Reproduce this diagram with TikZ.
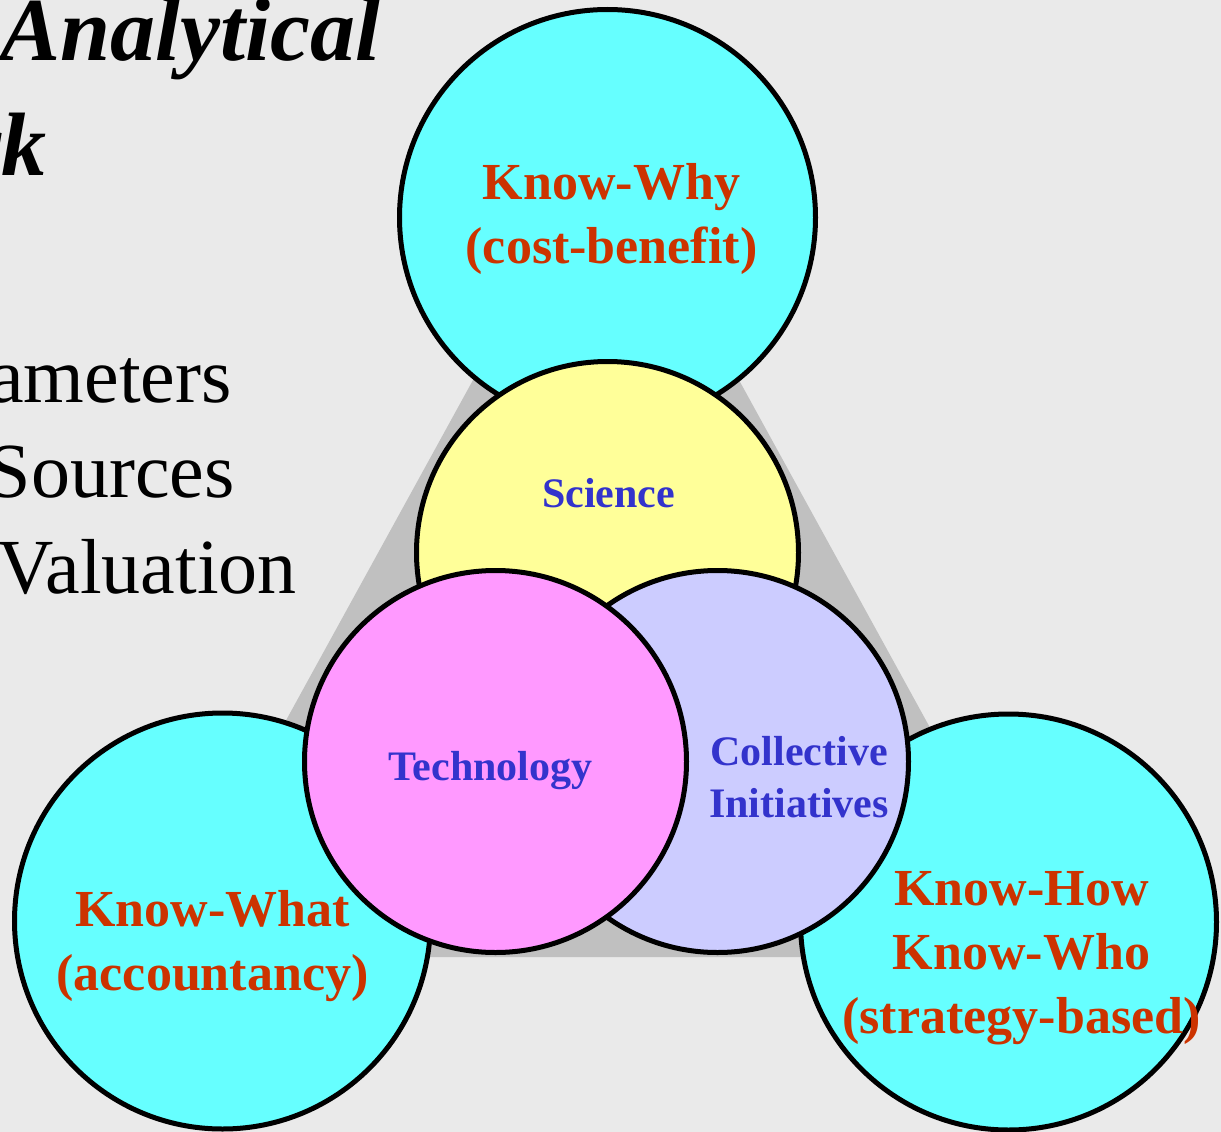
\documentclass[tikz,border=0pt]{standalone}
\usepackage{fontspec}
\setmainfont{Liberation Serif}
\definecolor{bgc}{HTML}{EAEAEA}
\definecolor{tric}{HTML}{C0C0C0}
\definecolor{cyanc}{HTML}{66FFFF}
\definecolor{yelc}{HTML}{FFFF99}
\definecolor{pinkc}{HTML}{FF99FF}
\definecolor{lavc}{HTML}{CCCCFF}
\definecolor{redc}{HTML}{CC3300}
\definecolor{bluec}{HTML}{3333CC}
\tikzset{
  disc/.style={circle, draw=black, line width=5pt, inner sep=0pt, outer sep=0pt},
  bigdisc/.style={disc, fill=cyanc, minimum size=416pt},
  smalldisc/.style={disc, minimum size=382pt},
  redlabel/.style={text=redc, align=center, anchor=base, inner sep=0pt,
    font=\fontsize{52}{64}\selectfont\bfseries},
  bluelabel/.style={text=bluec, align=center, anchor=base, inner sep=0pt,
    font=\fontsize{42}{52}\selectfont\bfseries},
  titletext/.style={anchor=base east, inner sep=0pt, text=black,
    font=\fontsize{90}{114}\selectfont\bfseries\itshape},
  bullettext/.style={anchor=base east, inner sep=0pt, text=black,
    font=\fontsize{78}{95}\selectfont}
}
\begin{document}
\begin{tikzpicture}[x=1pt,y=-1pt]
\useasboundingbox (0,0) rectangle (1221,1132);
\clip (0,0) rectangle (1221,1132);
\fill[bgc] (0,0) rectangle (1221,1132);
% title and bullets (cut by the page edge, as in the reference)
\node[titletext] (t1) at (381,61) {Analytical};
\node[titletext] (t2) at (47,175) {rk};
\node[bullettext] (b1) at (232,402) {ameters};
\node[bullettext] (b2) at (235,497) {Sources};
\node[bullettext] (b3) at (297,593) {Valuation};
% grey triangle
\fill[tric] (606,138) -- (156,957) -- (1056,957) -- cycle;
% outer circles
\node[bigdisc] (why) at (607.5,217.5) {};
\node[bigdisc] (what) at (222.5,921) {};
\node[bigdisc] (how) at (1008.5,922) {};
% inner circles
\node[smalldisc, fill=yelc] (sci) at (607.5,552.5) {};
\node[smalldisc, fill=lavc] (coll) at (717.5,761.5) {};
\node[smalldisc, fill=pinkc] (tech) at (495.5,761.5) {};
% labels (anchor base = baseline of the last line)
\node[redlabel] (lwhy) at (611.5,263) {Know-Why\\(cost-benefit)};
\node[redlabel] (lwhat) at (212.5,990) {Know-What\\(accountancy)};
\node[redlabel] (lhow) at (1021.5,1033) {Know-How\\Know-Who\\(strategy-based)};
\node[bluelabel] (lsci) at (608.5,507) {Science};
\node[bluelabel] (ltech) at (490.5,780) {Technology};
\node[bluelabel] (lcoll) at (799,817) {Collective\\Initiatives};
\end{tikzpicture}
\end{document}
